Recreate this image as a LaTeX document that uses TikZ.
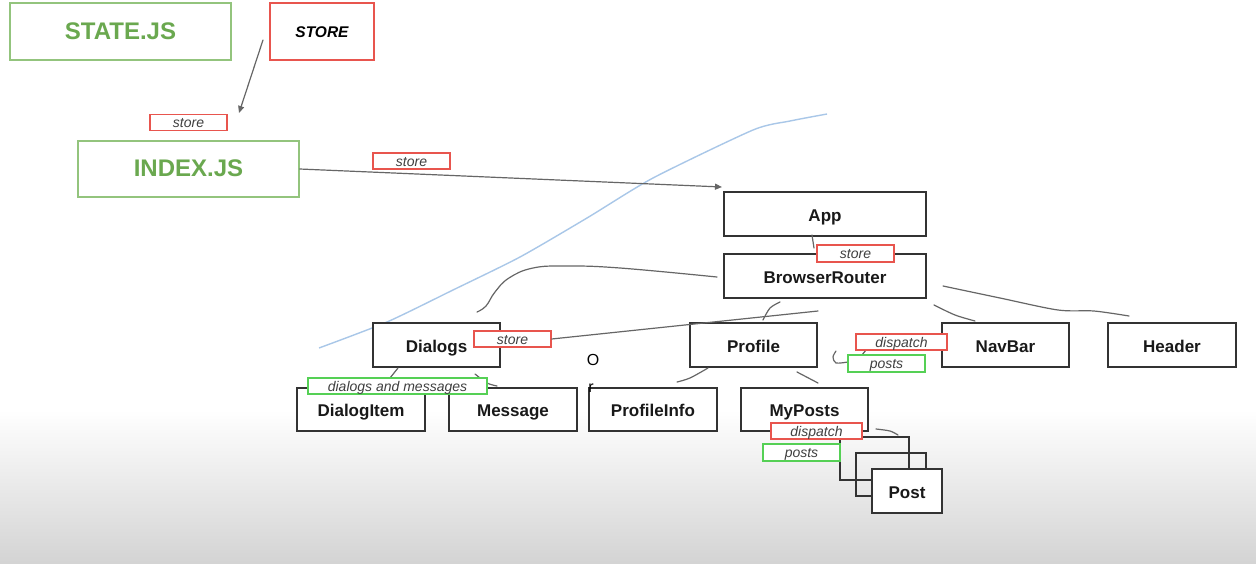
\documentclass[tikz,border=0pt]{standalone}
\usepackage{fontspec}
\setmainfont{Liberation Sans}
\usetikzlibrary{arrows.meta}
\definecolor{filegreen}{HTML}{6AA84F}
\definecolor{fileline}{HTML}{93C47D}
\definecolor{tagred}{HTML}{E8554E}
\definecolor{taggreen}{HTML}{55D055}
\definecolor{penblue}{HTML}{A9C7E8}
\begin{document}
\begin{tikzpicture}[x=1pt, y=-1pt,
  comp/.style = {draw=black!80, line width=1.3pt, fill=white,
    minimum width=127pt, minimum height=44pt, inner sep=0pt,
    text height=14pt, text depth=0pt,
    text=black!90, font=\fontsize{17}{20}\selectfont\bfseries},
  file/.style = {draw=fileline, line width=1.3pt, fill=white,
    minimum width=221pt, minimum height=57pt, inner sep=0pt,
    text height=15pt, text depth=0pt,
    text=filegreen, font=\fontsize{24}{28}\selectfont\bfseries},
  tagbox/.style = {line width=1.3pt, fill=white,
    minimum width=77pt, minimum height=16pt, inner sep=0pt,
    text height=12pt, text depth=2pt,
    text=black!75, font=\fontsize{14}{16}\selectfont\itshape},
  redtag/.style = {tagbox, draw=tagred},
  greentag/.style = {tagbox, draw=taggreen},
  wire/.style = {draw=black!60, line width=1.2pt, line cap=round},
  arrow/.style = {wire, -{Triangle[length=7pt,width=6pt]}}]
  \useasboundingbox (0,0) rectangle (1256,563);
  \fill[white] (0,0) rectangle (1256,563);
  \shade[top color=white, bottom color=black!17] (0,410) rectangle (1256,563);
  % pen strokes
  \draw[penblue, line width=1.4pt] plot[smooth, tension=0.4] coordinates {(319,348) (387,322) (453,290)
    (520,257) (587,218) (653,178) (753,130) (790,121) (827,114)};
  % files
  \node[file] (state) at (120.5,31.5) {STATE.JS};
  \node[file, minimum height=56pt] (index) at (188.5,169) {INDEX.JS};
  \node[file, draw=tagred, text=black, minimum width=104pt, text height=11pt,
    font=\fontsize{15.5}{18}\selectfont\bfseries\itshape] (store) at (322,31.5) {STORE};
  \coordinate (storeTail) at (263,40);
  \coordinate (storeHead) at (239,113);
  \coordinate (appIn) at (722,187);
  \draw[arrow] (storeTail) -- (storeHead);
  \draw[arrow] (index.east) -- (appIn);
  % components
  \node[comp, minimum width=202pt] (app) at (825,214) {App};
  \node[comp, minimum width=202pt] (router) at (825,276) {BrowserRouter};
  \node[comp] (dialogs) at (436.5,345) {Dialogs};
  \node[comp] (profile) at (753.5,345) {Profile};
  \node[comp] (navbar) at (1005.5,345) {NavBar};
  \node[comp, minimum width=128pt] (header) at (1172,345) {Header};
  \node[comp, minimum width=128pt, minimum height=43pt] (dialogItem) at (361,409.5) {DialogItem};
  \node[comp, minimum width=128pt, minimum height=43pt] (message) at (513,409.5) {Message};
  \node[comp, minimum width=128pt, minimum height=43pt] (profileInfo) at (653,409.5) {ProfileInfo};
  \node[comp, minimum height=43pt] (myPosts) at (804.5,409.5) {MyPosts};
  \node[comp, fill=none, minimum width=69pt, minimum height=43pt] (postC) at (874.5,458.5) {};
  \node[comp, fill=none, minimum width=70pt, minimum height=43pt] (postB) at (891,474.5) {};
  \node[comp, minimum width=70pt] (postA) at (907,491) {Post};
  \node[font=\fontsize{16}{18}\selectfont] (letterO) at (593,360) {O};
  \node[font=\fontsize{16}{18}\selectfont] (letterR) at (591,388) {r};
  % sketched links
  \draw[wire] plot[smooth, tension=0.7] coordinates {(717,277) (620,268) (567,266) (533,268) (509,278) (495,292) (486,306) (477,312)};
  \draw[wire] plot[smooth] coordinates {(780,302) (770,308) (763,320)};
  \draw[wire] plot[smooth] coordinates {(943,286) (1000,298) (1058,310) (1094,311) (1129,316)};
  \draw[wire] plot[smooth] coordinates {(934,305) (955,315) (975,321)};
  \draw[wire] (812,235) -- (814,248);
  \draw[wire] (398,368) -- (390,378);
  \draw[wire] plot[smooth] coordinates {(475,374) (487,383) (497,386)};
  \draw[wire] plot[smooth] coordinates {(708,368) (690,378) (677,382)};
  \draw[wire] (797,372) -- (818,383);
  \draw[wire] plot[smooth] coordinates {(876,429) (890,431) (898,435)};
  \draw[wire] plot[smooth] coordinates {(836,351) (833,357) (836,363) (848,362)};
  \draw[wire] (862,355) -- (866,350);
  % props
  \node[redtag] (tagStoreA) at (188.5,122.5) {store};
  \node[redtag] (tagStoreB) at (411.5,161) {store};
  \node[redtag, minimum height=17pt] (tagStoreC) at (855.5,253.5) {store};
  \node[redtag] (tagStoreD) at (512.5,339) {store};
  \coordinate (profileIn) at (818,311);
  \draw[wire] (tagStoreD.east) -- (profileIn);
  \node[redtag, minimum width=91pt] (tagDispatchA) at (901.5,342) {dispatch};
  \node[greentag, minimum height=17pt] (tagPostsA) at (886.5,363.5) {posts};
  \node[greentag, minimum width=179pt] (tagDialogs) at (397.5,386) {dialogs and messages};
  \node[redtag, minimum width=91pt] (tagDispatchB) at (816.5,431) {dispatch};
  \node[greentag, minimum height=17pt] (tagPostsB) at (801.5,452.5) {posts};
\end{tikzpicture}
\end{document}
